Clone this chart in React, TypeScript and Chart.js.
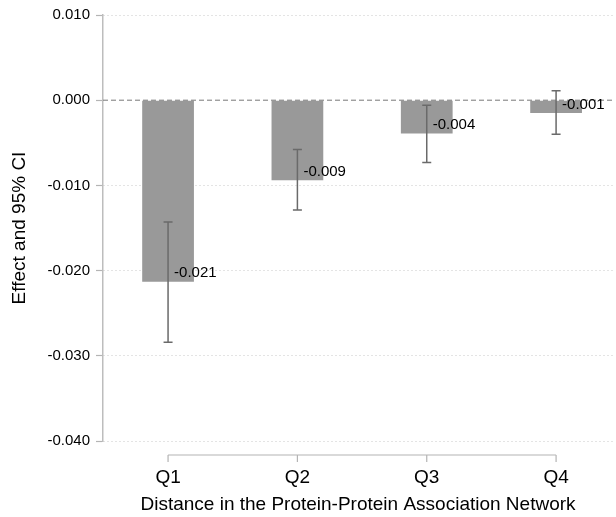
import React, { useEffect, useRef } from "react";
import { Chart, registerables } from "chart.js";

Chart.register(...registerables);

const categories = ["Q1", "Q2", "Q3", "Q4"];
const effects = [-0.0213, -0.0094, -0.0039, -0.0015];
const ciLow = [-0.0284, -0.0129, -0.0073, -0.004];
const ciHigh = [-0.0143, -0.0058, -0.0006, 0.0011];
const valueLabels = ["-0.021", "-0.009", "-0.004", "-0.001"];
const yTicks = [0.01, 0, -0.01, -0.02, -0.03, -0.04];

const FONT = '"Liberation Sans", Arial, Helvetica, sans-serif';

const stataPlugin = {
  id: "stataExtras",
  afterDatasetsDraw(chart: any) {
    const { ctx, chartArea, scales } = chart;
    const x = scales.x;
    const y = scales.y;
    ctx.save();
    // zero reference line
    const y0 = y.getPixelForValue(0);
    ctx.strokeStyle = "#777777";
    ctx.lineWidth = 1;
    ctx.setLineDash([5, 3]);
    ctx.beginPath();
    ctx.moveTo(chartArea.left, y0);
    ctx.lineTo(chartArea.right, y0);
    ctx.stroke();
    ctx.setLineDash([]);
    // error bars
    ctx.strokeStyle = "#6a6a6a";
    ctx.lineWidth = 1.5;
    categories.forEach((_, i) => {
      const px = x.getPixelForValue(i + 1);
      const pl = y.getPixelForValue(ciLow[i]);
      const ph = y.getPixelForValue(ciHigh[i]);
      ctx.beginPath();
      ctx.moveTo(px, pl);
      ctx.lineTo(px, ph);
      ctx.moveTo(px - 4.5, pl);
      ctx.lineTo(px + 4.5, pl);
      ctx.moveTo(px - 4.5, ph);
      ctx.lineTo(px + 4.5, ph);
      ctx.stroke();
    });
    // value labels
    ctx.fillStyle = "#000000";
    ctx.font = `15px ${FONT}`;
    ctx.textAlign = "left";
    ctx.textBaseline = "middle";
    categories.forEach((_, i) => {
      const px = x.getPixelForValue(i + 1);
      const py = y.getPixelForValue(effects[i]);
      ctx.fillText(valueLabels[i], px + 6, py - 8.5);
    });
    // x axis bracket line
    const ax = chartArea.bottom + 14;
    const xa = x.getPixelForValue(1);
    const xb = x.getPixelForValue(categories.length);
    ctx.strokeStyle = "#b4b4b4";
    ctx.lineWidth = 1.2;
    ctx.beginPath();
    ctx.moveTo(xa, ax);
    ctx.lineTo(xb, ax);
    categories.forEach((_, i) => {
      const px = x.getPixelForValue(i + 1);
      ctx.moveTo(px, ax);
      ctx.lineTo(px, ax + 7);
    });
    ctx.stroke();
    ctx.restore();
  },
};

export default function App() {
  const ref = useRef<HTMLCanvasElement | null>(null);
  useEffect(() => {
    if (!ref.current) return;
    const chart = new Chart(ref.current, {
      type: "bar",
      data: {
        datasets: [
          {
            data: categories.map((_, i) => ({ x: i + 1, y: effects[i] })),
            backgroundColor: "#999999",
            borderWidth: 0,
            barPercentage: 0.4,
            categoryPercentage: 1,
          },
        ],
      },
      options: {
        animation: false,
        responsive: false,
        layout: { padding: { top: 14, right: 3, left: 0, bottom: 0 } },
        plugins: { legend: { display: false }, tooltip: { enabled: false } },
        scales: {
          x: {
            type: "linear",
            offset: false,
            min: 0.497,
            max: 4.44,
            grid: { display: false, offset: false },
            border: { display: false },
            afterBuildTicks: (scale: any) => {
              scale.ticks = categories.map((_, i) => ({ value: i + 1 }));
            },
            afterFit: (scale: any) => {
              scale.height = 76;
            },
            ticks: {
              autoSkip: false,
              maxRotation: 0,
              padding: 17,
              color: "#000000",
              font: { size: 19, family: FONT },
              callback: (v: any) => categories[Math.round(Number(v)) - 1] ?? "",
            },
            title: {
              display: true,
              text: "Distance in the Protein-Protein Association Network",
              color: "#000000",
              font: { size: 19, family: FONT },
              padding: { top: 0, bottom: 1 },
            },
          },
          y: {
            min: -0.04,
            max: 0.01,
            afterBuildTicks: (scale: any) => {
              scale.ticks = yTicks.map((v) => ({ value: v }));
            },
            afterFit: (scale: any) => {
              scale.width = 103;
            },
            grid: {
              color: (c: any) =>
                c.tick && Math.abs(c.tick.value) < 1e-9 ? "rgba(0,0,0,0)" : "#c8c8c8",
              lineWidth: 1,
              drawTicks: true,
              tickLength: 7,
              tickColor: "#b4b4b4",
              tickWidth: 1.2,
              tickBorderDash: [],
            },
            border: { display: true, color: "#bdbdbd", width: 1.5, dash: [1, 3] },
            ticks: {
              padding: 6,
              color: "#000000",
              font: { size: 15, family: FONT },
              callback: (v: any) => Number(v).toFixed(3),
            },
            title: {
              display: true,
              text: "Effect and 95% CI",
              color: "#000000",
              font: { size: 19, family: FONT },
              padding: { top: 8, bottom: 0 },
            },
          },
        },
      },
      plugins: [stataPlugin],
    } as any);
    return () => chart.destroy();
  }, []);
  return (
    <div style={{ position: "fixed", left: 0, top: 0, width: 616, height: 517, overflow: "hidden", background: "#ffffff" }}>
      <canvas ref={ref} width={616} height={517} style={{ display: "block" }} />
    </div>
  );
}
